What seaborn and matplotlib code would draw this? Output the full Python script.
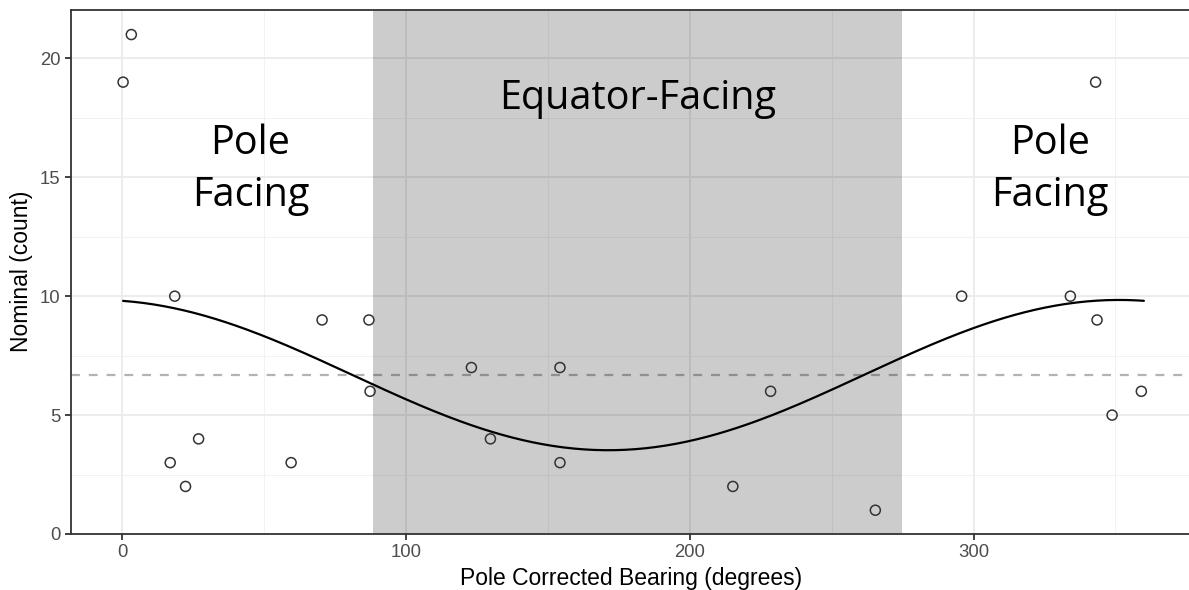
import numpy as np
import pandas as pd
import matplotlib
matplotlib.use("Agg")
import matplotlib.pyplot as plt
import seaborn as sns

# ---- data ----
bearing = [0.4, 3.3, 18.6, 17.0, 22.4, 27.0, 59.6, 70.5, 87.0, 87.4,
           123.1, 129.8, 154.3, 154.3, 215.2, 228.5, 265.4,
           295.8, 334.1, 343.0, 343.5, 348.8, 359.1]
count = [19, 21, 10, 3, 2, 4, 3, 9, 9, 6,
         7, 4, 7, 3, 2, 6, 1,
         10, 10, 19, 9, 5, 6]
equator_band = [88.3, 274.7]
x_ticks = [0, 100, 200, 300]
y_ticks = [0, 5, 10, 15, 20]

df = pd.DataFrame({"bearing": bearing, "count": count})

# cosine (circular) regression fitted to the points
rad = np.deg2rad(df["bearing"].to_numpy())
X = np.column_stack([np.ones_like(rad), np.cos(rad), np.sin(rad)])
coef, *_ = np.linalg.lstsq(X, df["count"].to_numpy(dtype=float), rcond=None)
xs = np.linspace(df["bearing"].min(), 360, 300)
rs = np.deg2rad(xs)
fit = pd.DataFrame({"bearing": xs,
                    "count": coef[0] + coef[1] * np.cos(rs) + coef[2] * np.sin(rs)})

sns.set_theme(style="white")
plt.rcParams["font.family"] = ["Liberation Sans", "DejaVu Sans"]

fig = plt.figure(figsize=(11.89, 5.90), dpi=100)
ax = fig.add_axes([71 / 1189, 56 / 590, (1192 - 71) / 1189, (534 - 9.6) / 590])

ax.set_xlim(-17.95, 376.95)
ax.set_ylim(0, 22.05)

# grid
ax.set_xticks(x_ticks)
ax.set_yticks(y_ticks)
ax.set_xticks([50, 150, 250, 350], minor=True)
ax.set_yticks([2.5, 7.5, 12.5, 17.5], minor=True)
ax.grid(which="major", color="#ebebeb", lw=1.3, zorder=0)
ax.grid(which="minor", color="#f2f2f2", lw=0.7, zorder=0)
ax.set_axisbelow(True)

# mean line
ax.axhline(coef[0], color="#b3b3b3", lw=1.6, ls=(0, (4, 4)), zorder=1)

# equator-facing band
ax.axvspan(equator_band[0], equator_band[1], color="black", alpha=0.2, lw=0, zorder=2)

sns.scatterplot(data=df, x="bearing", y="count", ax=ax, s=52,
                facecolor="none", edgecolor="#333333", linewidth=1.1, zorder=4)
sns.lineplot(data=fit, x="bearing", y="count", ax=ax, color="black", lw=1.6, zorder=5)

# annotations
tk = dict(family=["Open Sans", "DejaVu Sans"], fontsize=28.5, color="black",
          ha="center", va="baseline", zorder=6)
for xc in (45.3, 326.9):
    ax.text(xc, 15.99, "Pole", **tk)
    ax.text(xc, 13.8, "Facing", **tk)
ax.text(181.5, 17.86, "Equator-Facing", **tk)

# axes styling
for sp in ax.spines.values():
    sp.set_color("#333333")
    sp.set_linewidth(1.3)
ax.tick_params(axis="both", which="major", length=4.5, width=1.3, color="#333333",
               labelcolor="#4d4d4d", labelsize=13.3, pad=3, bottom=True, left=True)
ax.tick_params(axis="both", which="minor", length=0)
ax.set_xlabel("Pole Corrected Bearing (degrees)", fontsize=16.5, color="black", labelpad=4)
ax.set_ylabel("Nominal (count)", fontsize=16.5, color="black", labelpad=5)

fig.savefig("out.png", dpi=100)
